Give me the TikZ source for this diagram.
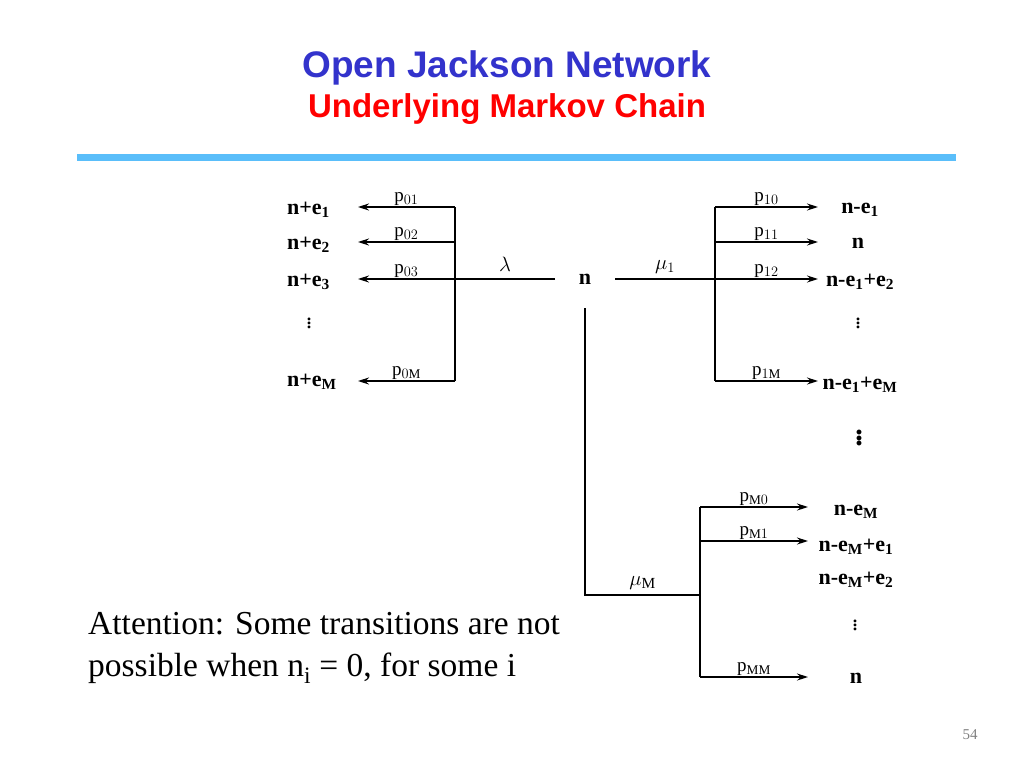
\documentclass[tikz,border=0pt]{standalone}
\usepackage{fontspec}
\setmainfont{Liberation Serif}
\newfontfamily\headfont{Liberation Sans}
\usetikzlibrary{arrows.meta}
\definecolor{titleblue}{RGB}{51,51,204}
\definecolor{barblue}{RGB}{90,190,250}
\begin{document}
\begin{tikzpicture}[x=1pt,y=-1pt, >={Stealth[length=11pt,width=7pt]},
    state/.style={font=\fontsize{22}{22}\selectfont\bfseries, inner sep=1pt},
    prob/.style={font=\fontsize{19}{19}\selectfont, inner sep=1pt},
    rate/.style={font=\fontsize{22}{22}\selectfont, inner sep=1pt},
    dots/.style={font=\fontsize{24}{24}\selectfont, inner sep=0pt},
    line/.style={line width=1.3pt}]
    \useasboundingbox (0,0) rectangle (1024,768);
    \node[font=\headfont\fontsize{37}{37}\selectfont\bfseries, text=titleblue] (title) at (507,68) {Open Jackson Network};
    \node[font=\headfont\fontsize{33}{33}\selectfont\bfseries, text=red] (subtitle) at (507,109) {Underlying Markov Chain};
    \fill[barblue] (77,154) rectangle (956,161);
    % centre state
    \node[state] (n) at (585,279) {n};
    % arrivals
    \node[state,anchor=west] (A1) at (286,210) {n+e$_\mathbf{1}$};
    \node[state,anchor=west] (A2) at (286,245) {n+e$_\mathbf{2}$};
    \node[state,anchor=west] (A3) at (286,282) {n+e$_\mathbf{3}$};
    \node[dots] (Ad) at (309,320) {$\vdots$};
    \node[state,anchor=west] (AM) at (286,382) {n+e$_\mathbf{M}$};
    \coordinate (L1) at (455,207); \coordinate (L3) at (455,279); \coordinate (LM) at (455,381);
    \coordinate (Lin) at (555,279);
    \draw[line] (Lin) -- (L3) node[rate,midway,above=6pt] {$\lambda$};
    \draw[line] (L1) -- (LM);
    \draw[line,->] (L1) -- (358,207) node[prob,midway,above] {p$_{01}$};
    \draw[line,->] (455,242) -- (358,242) node[prob,midway,above] {p$_{02}$};
    \draw[line,->] (L3) -- (358,279) node[prob,midway,above] {p$_{03}$};
    \draw[line,->] (LM) -- (358,381) node[prob,midway,above] {p$_{0\mathrm{M}}$};
    % departures from queue 1
    \node[state] (B1) at (860,210) {n-e$_\mathbf{1}$};
    \node[state] (B2) at (858,243) {n};
    \node[state] (B3) at (860,282) {n-e$_\mathbf{1}$+e$_\mathbf{2}$};
    \node[dots] (Bd) at (858,320) {$\vdots$};
    \node[state] (BM) at (860,385) {n-e$_\mathbf{1}$+e$_\mathbf{M}$};
    \node[font=\fontsize{30}{30}\selectfont\bfseries, inner sep=0pt] (Bdots) at (859,435) {$\vdots$};
    \coordinate (Rout) at (615,279);
    \coordinate (R1) at (715,207); \coordinate (R3) at (715,279); \coordinate (RM) at (715,381);
    \draw[line] (Rout) -- (R3) node[rate,midway,above=4pt] {$\mu_1$};
    \draw[line] (R1) -- (RM);
    \draw[line,->] (R1) -- (818,207) node[prob,midway,above] {p$_{10}$};
    \draw[line,->] (715,242) -- (818,242) node[prob,midway,above] {p$_{11}$};
    \draw[line,->] (R3) -- (818,279) node[prob,midway,above] {p$_{12}$};
    \draw[line,->] (RM) -- (818,381) node[prob,midway,above] {p$_{1\mathrm{M}}$};
    % departures from queue M
    \node[state] (C1) at (856,512) {n-e$_\mathbf{M}$};
    \node[state] (C2) at (856,547) {n-e$_\mathbf{M}$+e$_\mathbf{1}$};
    \node[state] (C3) at (856,580) {n-e$_\mathbf{M}$+e$_\mathbf{2}$};
    \node[dots] (Cd) at (855,622) {$\vdots$};
    \node[state] (CM) at (856,678) {n};
    \coordinate (Dtop) at (585,308); \coordinate (Dbot) at (585,595);
    \coordinate (M1) at (700,507); \coordinate (M3) at (700,595); \coordinate (MM) at (700,677);
    \draw[line] (Dtop) -- (Dbot) -- (M3) node[rate,midway,above=4pt] {$\mu_\mathrm{M}$};
    \draw[line] (M1) -- (MM);
    \draw[line,->] (M1) -- (808,507) node[prob,midway,above] {p$_{\mathrm{M}0}$};
    \draw[line,->] (700,541) -- (808,541) node[prob,midway,above] {p$_{\mathrm{M}1}$};
    \draw[line,->] (MM) -- (808,677) node[prob,midway,above] {p$_{\mathrm{MM}}$};
    % note
    \node[anchor=north west, align=left, font=\fontsize{33.5}{42}\selectfont, inner sep=0pt] (note) at (88,612)
      {Attention: Some transitions are not\\ possible when n$_\mathrm{i}$ = 0, for some i};
    \node[font=\fontsize{15}{15}\selectfont, text=gray] (page) at (970,735) {54};
\end{tikzpicture}
\end{document}
